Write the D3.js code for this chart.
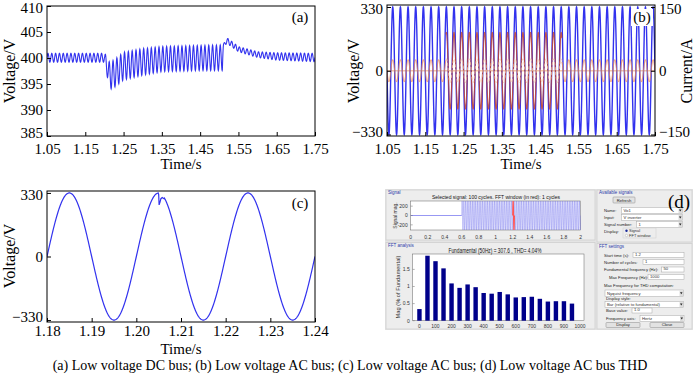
<!DOCTYPE html>
<html>
<head>
<meta charset="utf-8">
<script src="https://cdn.jsdelivr.net/npm/d3@7/dist/d3.min.js"></script>
<style>
  body { margin: 0; background: #fff; }
  svg { display: block; }
  text { font-family: "Liberation Serif", "Times New Roman", serif; fill: #000; }
  .gui text { font-family: "Liberation Sans", Arial, sans-serif; }
</style>
</head>
<body>
<svg id="fig" width="700" height="376"></svg>
<script>
// ---------------- DATA ----------------
// (a) low voltage DC bus: envelope of the 100 Hz ripple (V)
const dcRippleFreq = 100;
const dcEnvTime  = [1.05, 1.2, 1.204, 1.21, 1.215, 1.225, 1.25, 1.3, 1.35, 1.45, 1.508, 1.511, 1.52, 1.55, 1.6, 1.65, 1.75];
const dcEnvUpper = [400.9, 400.9, 400.6, 399.3, 399.3, 399.6, 401.1, 401.8, 402.2, 402.4, 402.5, 402.7, 403.9, 402.2, 401.2, 401.0, 400.9];
const dcEnvLower = [399.2, 399.2, 397.5, 395.5, 394.0, 394.3, 395.8, 396.7, 397.4, 397.6, 397.6, 402.2, 402.8, 401.2, 400.1, 399.6, 399.3];
const aTicksX = [1.05, 1.15, 1.25, 1.35, 1.45, 1.55, 1.65, 1.75];
const aTicksY = [385, 390, 395, 400, 405, 410];

// (b) low voltage AC bus: 50 Hz voltage and currents, amplitude per time segment
const acFreq = 50;
const acVoltPeak = 330;
const segStart = [1.05, 1.204, 1.507];
const segEnd   = [1.204, 1.507, 1.75];
const loadCurrAmp = [26, 28, 26];   // orange trace (A)
const lineCurrAmp = [0, 90, 0];     // dark red trace (A)
const bTicksY = [-330, 0, 330];
const bTicksY2 = [-150, 0, 150];

// (c) zoom on the switching instant, with the small notch near 1.205 s
const cTicksX = [1.18, 1.19, 1.20, 1.21, 1.22, 1.23, 1.24];
const cTicksY = [-330, 0, 330];
const notchTime = [1.2049, 1.2050, 1.2051, 1.2053, 1.2055, 1.2058, 1.2062];
const notchVolt = [329, 322, 268, 282, 300, 306, 300];

// (d) FFT of the AC bus voltage (% of fundamental)
const fftFreq = [0, 50, 100, 150, 200, 250, 300, 350, 400, 450, 500, 550, 600, 650, 700, 750, 800, 850, 900, 950];
const fftMag  = [0.34, 1.90, 1.74, 1.53, 1.09, 0.96, 1.06, 0.98, 0.81, 0.79, 0.84, 0.77, 0.68, 0.69, 0.70, 0.64, 0.56, 0.57, 0.57, 0.50];
const fftTicksX = [0, 100, 200, 300, 400, 500, 600, 700, 800, 900, 1000];
const fftTicksY = [0, 0.5, 1, 1.5];
const sigTicksX = [0, 0.2, 0.4, 0.6, 0.8, 1, 1.2, 1.4, 1.6, 1.8, 2];
const sigTicksY = [-200, 0, 200];
const sigStartTime = 0.6;
const sigPeak = 307.6;
const fftWindow = [1.2, 1.22];

const caption = "(a) Low voltage DC bus; (b) Low voltage AC bus; (c) Low voltage AC bus; (d) Low voltage AC bus THD";

// ---------------- CHART ----------------
const svg = d3.select("#fig");
const BLUE = "#3232ee";
const defs = svg.append("defs");

function makeClip(id, b) {
  defs.append("clipPath").attr("id", id)
    .append("rect").attr("x", b.x0).attr("y", b.y0)
    .attr("width", b.x1 - b.x0).attr("height", b.y1 - b.y0);
}

// bottom + left axes with inward ticks, a closed frame around the plot
function drawAxes(b, x, y, xTicks, xFmt, yTicks, yFmt, xPad) {
  svg.append("g")
    .attr("transform", `translate(0, ${b.y1})`)
    .call(d3.axisBottom(x).tickValues(xTicks).tickFormat(xFmt).tickSize(-4).tickPadding(xPad))
    .call((g) => g.select(".domain").remove())
    .call((g) => g.selectAll("text").attr("font-size", 15).attr("font-family", "Liberation Serif"));
  svg.append("g")
    .attr("transform", `translate(${b.x0}, 0)`)
    .call(d3.axisLeft(y).tickValues(yTicks).tickFormat(yFmt).tickSize(-4).tickPadding(4))
    .call((g) => g.select(".domain").remove())
    .call((g) => g.selectAll("text").attr("font-size", 15).attr("font-family", "Liberation Serif"))
    .call((g) => g.selectAll(".tick:first-of-type text").attr("dy", "0.12em"))
    .call((g) => g.selectAll(".tick:last-of-type text").attr("dy", "0.45em"));
  svg.append("rect")
    .attr("x", b.x0).attr("y", b.y0)
    .attr("width", b.x1 - b.x0).attr("height", b.y1 - b.y0)
    .attr("fill", "none").attr("stroke", "#000").attr("stroke-width", 1);
}

function label(x, y, txt, size, rotate) {
  const t = svg.append("text")
    .attr("font-size", size)
    .attr("text-anchor", "middle")
    .text(txt);
  if (rotate) t.attr("transform", `translate(${x}, ${y}) rotate(-90)`);
  else t.attr("x", x).attr("y", y);
  return t;
}

// ===== PANEL (a) =====
const aBox = { x0: 47, x1: 315, y0: 6, y1: 136 };
makeClip("clipA", aBox);
const aX = d3.scaleLinear().domain([1.05, 1.75]).range([aBox.x0, aBox.x1]);
const aY = d3.scaleLinear().domain([385, 410]).range([aBox.y1, aBox.y0]);
const upperAt = d3.scaleLinear().domain(dcEnvTime).range(dcEnvUpper);
const lowerAt = d3.scaleLinear().domain(dcEnvTime).range(dcEnvLower);
const dcSeries = d3.range(1.05, 1.75001, 0.0005).map((t) => {
  const hi = upperAt(t), lo = lowerAt(t);
  return [t, (hi + lo) / 2 + ((hi - lo) / 2) * Math.sin(2 * Math.PI * dcRippleFreq * t)];
});
svg.append("path")
  .datum(dcSeries)
  .attr("clip-path", "url(#clipA)")
  .attr("fill", "none").attr("stroke", BLUE).attr("stroke-width", 1.1)
  .attr("d", d3.line().x((d) => aX(d[0])).y((d) => aY(d[1])));
drawAxes(aBox, aX, aY, aTicksX, d3.format(".2f"), aTicksY, d3.format("d"), 7.5);
label(181, 169, "Time/s", 15);
label(15, 71, "Voltage/V", 16, true);
label(300, 22, "(a)", 15);

// ===== PANEL (b) =====
const bBox = { x0: 387, x1: 655, y0: 5, y1: 136 };
makeClip("clipB", bBox);
const bX = d3.scaleLinear().domain([1.05, 1.75]).range([bBox.x0, bBox.x1]);
const bY = d3.scaleLinear().domain([-330, 330]).range([134.5, 7]);
const bYi = d3.scaleLinear().domain([-150, 150]).range([134.5, 7]);
const acTime = d3.range(1.05, 1.75001, 0.00025);
const wave = (t) => Math.sin(2 * Math.PI * acFreq * t);
const bLine = d3.line().x((d) => bX(d[0])).y((d) => d[1]);

// pale trace lying on zero outside the step
svg.append("path")
  .datum([[1.05, bYi(0)], [1.75, bYi(0)]])
  .attr("clip-path", "url(#clipB)")
  .attr("fill", "none").attr("stroke", "#f7c9a6").attr("stroke-width", 1.4)
  .attr("d", bLine);

// VOLTAGE
svg.append("path")
  .datum(acTime.map((t) => [t, bY(acVoltPeak * wave(t))]))
  .attr("clip-path", "url(#clipB)")
  .attr("fill", "none").attr("stroke", BLUE).attr("stroke-width", 1.4)
  .attr("d", bLine);

// LINE CURRENT (dark red, only during the step)
segStart.forEach((s, i) => {
  if (!lineCurrAmp[i]) return;
  const ts = acTime.filter((t) => t >= s && t <= segEnd[i]);
  svg.append("path")
    .datum(ts.map((t) => [t, bYi(lineCurrAmp[i] * wave(t))]))
    .attr("clip-path", "url(#clipB)")
    .attr("fill", "none").attr("stroke", "#c4452c").attr("stroke-width", 1.1).attr("stroke-opacity", 0.85)
    .attr("d", bLine);
});

// LOAD CURRENT (orange)
segStart.forEach((s, i) => {
  const ts = acTime.filter((t) => t >= s && t <= segEnd[i]);
  svg.append("path")
    .datum(ts.map((t) => [t, bYi(loadCurrAmp[i] * wave(t))]))
    .attr("clip-path", "url(#clipB)")
    .attr("fill", "none")
    .attr("stroke", lineCurrAmp[i] ? "#f6c49c" : "#f08a4c")
    .attr("stroke-width", 0.9)
    .attr("stroke-dasharray", lineCurrAmp[i] ? "3,2" : null)
    .attr("d", bLine);
});

drawAxes(bBox, bX, bY, aTicksX, d3.format(".2f"), bTicksY, d3.format("d"), 7.5);
svg.append("g")
  .attr("transform", `translate(${bBox.x1}, 0)`)
  .call(d3.axisRight(bYi).tickValues(bTicksY2).tickFormat(d3.format("d")).tickSize(-4).tickPadding(4))
  .call((g) => g.select(".domain").remove())
  .call((g) => g.selectAll("text").attr("font-size", 15).attr("font-family", "Liberation Serif"))
  .call((g) => g.selectAll(".tick:first-of-type text").attr("dy", "0.12em"))
  .call((g) => g.selectAll(".tick:last-of-type text").attr("dy", "0.45em"));
svg.append("rect").attr("x", 631).attr("y", 9).attr("width", 22).attr("height", 17).attr("fill", "#fff");
label(642, 22, "(b)", 15);
label(521, 169, "Time/s", 15);
label(359, 71, "Voltage/V", 16, true);
label(692, 71, "Current/A", 16, true);

// ===== PANEL (c) =====
const cBox = { x0: 47, x1: 315, y0: 191, y1: 322 };
makeClip("clipC", cBox);
const cX = d3.scaleLinear().domain([1.18, 1.24]).range([cBox.x0, cBox.x1]);
const cY = d3.scaleLinear().domain([-340, 340]).range([cBox.y1, cBox.y0]);
const notchAt = d3.scaleLinear().domain(notchTime).range(notchVolt);
const cSeries = d3.range(1.18, 1.24001, 0.0001)
  .filter((t) => t < notchTime[0] || t > notchTime[notchTime.length - 1])
  .map((t) => [t, acVoltPeak * wave(t)])
  .concat(notchTime.map((t) => [t, notchAt(t)]))
  .sort((p, q) => p[0] - q[0]);
svg.append("path")
  .datum(cSeries)
  .attr("clip-path", "url(#clipC)")
  .attr("fill", "none").attr("stroke", BLUE).attr("stroke-width", 1.2)
  .attr("d", d3.line().x((d) => cX(d[0])).y((d) => cY(d[1])));
drawAxes(cBox, cX, cY, cTicksX, d3.format(".2f"), cTicksY, d3.format("d"), 3);
label(181, 354, "Time/s", 15);
label(15, 256, "Voltage/V", 16, true);
label(300, 208, "(c)", 15);

// ===== PANEL (d) : FFT analysis window =====
const gui = svg.append("g").attr("class", "gui");
gui.append("rect").attr("x", 385).attr("y", 189).attr("width", 308).attr("height", 141).attr("fill", "#e4e4e4");
[[386, 190, 209, 50], [386, 242.5, 209, 86.5], [597, 190, 95, 52], [597, 243.5, 95, 85.5]].forEach((r) => {
  gui.append("rect").attr("x", r[0]).attr("y", r[1]).attr("width", r[2]).attr("height", r[3])
    .attr("fill", "#ededed").attr("stroke", "#cfcfcf").attr("stroke-width", 0.8);
});

function gText(x, y, s, size, opts) {
  opts = opts || {};
  const t = gui.append("text")
    .attr("x", x).attr("y", y)
    .attr("font-size", size)
    .attr("text-anchor", opts.anchor || "start")
    .style("fill", opts.color || "#222")
    .text(s);
  if (opts.w) t.attr("textLength", opts.w).attr("lengthAdjust", "spacingAndGlyphs");
  return t;
}
gText(388, 194, "Signal", 4.5, { color: "#2a3aa8" });
gText(388, 246.5, "FFT analysis", 4.5, { color: "#2a3aa8" });
gText(599, 194, "Available signals", 4.5, { color: "#2a3aa8" });
gText(599, 247.5, "FFT settings", 4.5, { color: "#2a3aa8" });

// SIGNAL PLOT
const sBox = { x0: 410.7, x1: 580.7, y0: 201, y1: 230 };
makeClip("clipS", sBox);
const sX = d3.scaleLinear().domain([0, 2]).range([sBox.x0, sBox.x1]);
const sY = d3.scaleLinear().domain([-310, 310]).range([sBox.y1, sBox.y0]);
gui.append("rect").attr("x", sBox.x0).attr("y", sBox.y0).attr("width", sBox.x1 - sBox.x0).attr("height", sBox.y1 - sBox.y0)
  .attr("fill", "#fff").attr("stroke", "#666").attr("stroke-width", 0.5);
const sLine = d3.line().x((d) => sX(d[0])).y((d) => sY(d[1]));
gui.append("path")
  .datum([[0, 0], [sigStartTime, 0]])
  .attr("fill", "none").attr("stroke", "#7d7df0").attr("stroke-width", 0.8)
  .attr("d", sLine);
gui.append("path")
  .datum(d3.range(sigStartTime, 2.00001, 0.0005).map((t) => [t, sigPeak * wave(t)]))
  .attr("clip-path", "url(#clipS)")
  .attr("fill", "none").attr("stroke", "#5656ea").attr("stroke-width", 0.45).attr("stroke-opacity", 0.75)
  .attr("d", sLine);
gui.append("path")
  .datum(d3.range(fftWindow[0], fftWindow[1] + 1e-6, 0.0002).map((t) => [t, sigPeak * wave(t)]))
  .attr("clip-path", "url(#clipS)")
  .attr("fill", "none").attr("stroke", "#ff5555").attr("stroke-width", 1.2)
  .attr("d", sLine);
gText(496, 199, "Selected signal: 100 cycles. FFT window (in red): 1 cycles", 6, { anchor: "middle", w: 128, color: "#111" });
sigTicksX.forEach((v) => gText(sX(v), 239, d3.format("~g")(v), 5, { anchor: "middle", color: "#333" }));
sigTicksY.forEach((v) => {
  gText(sBox.x0 - 3, sY(v) + 1.8, String(v), 5, { anchor: "end", color: "#333" });
  gui.append("line").attr("x1", sBox.x0).attr("x2", sBox.x0 + 2).attr("y1", sY(v)).attr("y2", sY(v)).attr("stroke", "#666").attr("stroke-width", 0.5);
});
gText(0, 0, "Signal mag.", 5, { anchor: "middle", color: "#333" }).attr("transform", "translate(396.5, 215.5) rotate(-90)");

// FFT BARS
const fBox = { x0: 412.7, x1: 584, y0: 254, y1: 320.7 };
const fX = d3.scaleLinear().domain([-42, 1025]).range([fBox.x0, fBox.x1]);
const fY = d3.scaleLinear().domain([0, 1.95]).range([fBox.y1, fBox.y0]);
gui.append("rect").attr("x", fBox.x0).attr("y", fBox.y0).attr("width", fBox.x1 - fBox.x0).attr("height", fBox.y1 - fBox.y0)
  .attr("fill", "#fff").attr("stroke", "#666").attr("stroke-width", 0.5);
const bw = (fX(50) - fX(0)) * 0.55;
gui.selectAll("rect.bar")
  .data(fftFreq)
  .enter()
  .append("rect")
  .attr("class", "bar")
  .attr("x", (d) => fX(d) - bw / 2)
  .attr("y", (d, i) => fY(fftMag[i]))
  .attr("width", bw)
  .attr("height", (d, i) => fY(0) - fY(fftMag[i]))
  .attr("fill", "#00008a");
gText(495, 253, "Fundamental (50Hz) = 307.6 , THD= 4.04%", 6.5, { anchor: "middle", w: 93, color: "#111" });
fftTicksX.forEach((v) => gText(fX(v), 328.3, String(v), 5, { anchor: "middle", color: "#333" }));
fftTicksY.forEach((v) => {
  gText(fBox.x0 - 3, fY(v) + 1.8, String(v), 5, { anchor: "end", color: "#333" });
  gui.append("line").attr("x1", fBox.x0).attr("x2", fBox.x0 + 2).attr("y1", fY(v)).attr("y2", fY(v)).attr("stroke", "#666").attr("stroke-width", 0.5);
});
gText(0, 0, "Mag (% of Fundamental)", 5, { anchor: "middle", color: "#333", w: 63 }).attr("transform", "translate(400, 287) rotate(-90)");

// GUI WIDGETS (available signals / FFT settings)
function field(x, y, w, h, s, arrow) {
  gui.append("rect").attr("x", x).attr("y", y).attr("width", w).attr("height", h)
    .attr("fill", "#fff").attr("stroke", "#a8a8a8").attr("stroke-width", 0.5);
  gText(x + 2, y + h - 1.6, s, 4.2, { color: "#333" });
  if (arrow) {
    gui.append("rect").attr("x", x + w - 4).attr("y", y + 0.5).attr("width", 3.5).attr("height", h - 1).attr("fill", "#ddd");
    gui.append("path").attr("d", `M${x + w - 3.5},${y + h / 2 - 1}l2.5,0l-1.25,2z`).attr("fill", "#222");
  }
}
function button(x, y, w, h, s) {
  gui.append("rect").attr("x", x).attr("y", y).attr("width", w).attr("height", h)
    .attr("fill", "#e2e2e2").attr("stroke", "#8a8a8a").attr("stroke-width", 0.5).attr("rx", 0.8);
  gText(x + w / 2, y + h - 1.5, s, 4.2, { anchor: "middle", color: "#222" });
}
button(613, 197, 22, 6, "Refresh");
gText(604, 212, "Name:", 4.2);
field(621.5, 207.5, 61, 6, "Vo1", true);
gText(604, 219, "Input:", 4.2);
field(621.5, 214.5, 61, 6, "V inverter", true);
gText(604, 226, "Signal number:", 4.2);
field(636.5, 221.5, 46, 6, "1", true);
gText(604, 233, "Display:", 4.2);
gui.append("rect").attr("x", 623).attr("y", 228).attr("width", 33).attr("height", 10).attr("fill", "#ededed").attr("stroke", "#cfcfcf").attr("stroke-width", 0.5);
gui.append("circle").attr("cx", 626.5).attr("cy", 230.8).attr("r", 1.2).attr("fill", "#1a2a9a");
gText(629, 232, "Signal", 4, { color: "#333" });
gui.append("circle").attr("cx", 626.5).attr("cy", 235.5).attr("r", 1.2).attr("fill", "#fff").attr("stroke", "#999").attr("stroke-width", 0.4);
gText(629, 236.8, "FFT window", 4, { color: "#333" });
svg.append("text").attr("x", 679).attr("y", 208).attr("font-size", 19).attr("text-anchor", "middle").text("(d)");

gText(604, 256.5, "Start time (s):", 4.2);
field(633, 252.5, 51, 5, "1.2");
gText(604, 263.5, "Number of cycles:", 4.2);
field(643, 259.5, 41, 5, "1");
gText(604, 271, "Fundamental frequency (Hz):", 4.2);
field(661.5, 267, 22.5, 5, "50");
gText(609, 278.5, "Max Frequency (Hz):", 4.2);
field(648, 274.5, 36, 5, "1000");
gText(604, 287, "Max Frequency for THD computation:", 4.2);
field(605, 290, 78.5, 6.5, "Nyquist frequency", true);
gText(606, 299.5, "Display style:", 4.2);
field(605, 301.5, 78.5, 6, "Bar (relative to fundamental)", true);
gText(606, 311.5, "Base value:", 4.2);
field(632, 308, 20, 5, "1.0");
gText(606, 319.5, "Frequency axis:", 4.2);
field(640, 315.5, 44, 6, "Hertz", true);
button(606, 322.5, 34, 5, "Display");
button(650, 322.5, 34, 5, "Close");

// ===== CAPTION =====
label(350, 370, caption, 14);
</script>
</body>
</html>
